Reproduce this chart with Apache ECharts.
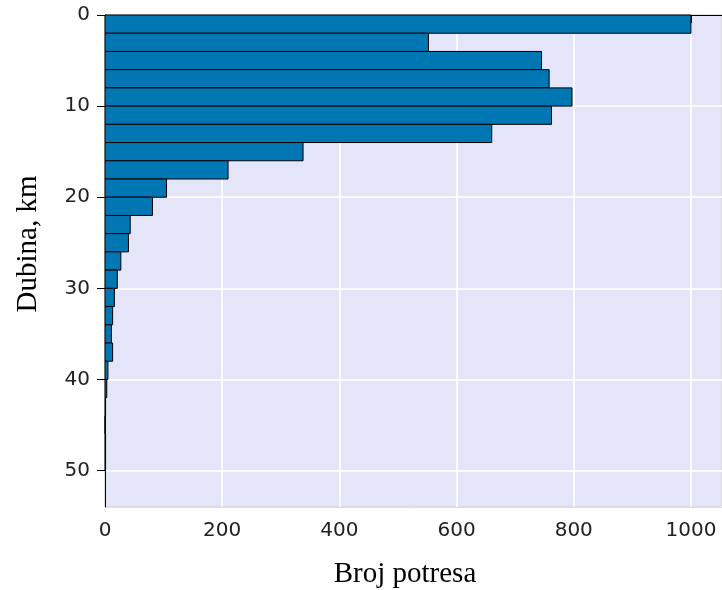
<!DOCTYPE html>
<html>
<head>
<meta charset="utf-8">
<script src="https://cdn.jsdelivr.net/npm/echarts@6/dist/echarts.min.js"></script>
<style>html,body{margin:0;padding:0;background:#fff;}#c{width:722px;height:590px;}</style>
</head>
<body>
<div id="c"></div>
<script>
// bin lower edges (km), bin width 2 km
const binStarts = [0,2,4,6,8,10,12,14,16,18,20,22,24,26,28,30,32,34,36,38,40,42,44,46,48];
const binWidth = 2;
const counts = [1000,552,745,758,797,762,660,338,210,105,81,43,40,27,21,16,13,11,13,5,3,1,0,1,1];
const xTicks = [0,200,400,600,800,1000];
const yTicks = [0,10,20,30,40,50];
const xTitle = 'Broj potresa';
const yTitle = 'Dubina, km';

const data = binStarts.map((s,i)=>[s, s+binWidth, counts[i]]);

const chart = echarts.init(document.getElementById('c'), null, {renderer:'canvas'});
chart.setOption({
  animation:false,
  grid:{left:105,top:15,right:-3,bottom:83,show:true,backgroundColor:'#e5e5fa',borderColor:'#000',borderWidth:1},
  xAxis:{type:'value',min:0,max:1053,interval:200,
    axisLine:{show:true,lineStyle:{color:'#000'}},
    axisTick:{show:true,length:8,lineStyle:{color:'#000'}},
    axisLabel:{fontFamily:'DejaVu Sans',fontSize:20,color:'#222',margin:14,showMaxLabel:false,
      formatter:v=>xTicks.includes(v)?String(v):''},
    splitLine:{show:true,lineStyle:{color:'#fff',width:1.5}}},
  yAxis:{type:'value',inverse:true,min:0,max:54,interval:10,
    axisLine:{show:true,lineStyle:{color:'#000'}},
    axisTick:{show:true,length:8,lineStyle:{color:'#000'}},
    axisLabel:{fontFamily:'DejaVu Sans',fontSize:20,color:'#222',margin:15,showMaxLabel:false,
      formatter:v=>yTicks.includes(v)?String(v):''},
    splitLine:{show:true,lineStyle:{color:'#fff',width:1.5}}},
  graphic:[
    {type:'text',left:null,x:405,y:574,style:{text:xTitle,font:'29px "Liberation Serif"',fill:'#000',align:'center',verticalAlign:'middle'}},
    {type:'text',x:28,y:244,rotation:Math.PI/2,style:{text:yTitle,font:'29px "Liberation Serif"',fill:'#000',align:'center',verticalAlign:'middle'}}
  ],
  series:[{
    type:'custom',
    data:data,
    encode:{x:2,y:[0,1]},
    renderItem:function(params,api){
      const p0 = api.coord([0, api.value(0)]);
      const p1 = api.coord([api.value(2), api.value(1)]);
      return {type:'rect',shape:{x:p0[0],y:p0[1],width:p1[0]-p0[0],height:p1[1]-p0[1]},
        style:{fill:'#0076b3',stroke:'#000',lineWidth:1}};
    }
  }]
});
</script>
</body>
</html>
